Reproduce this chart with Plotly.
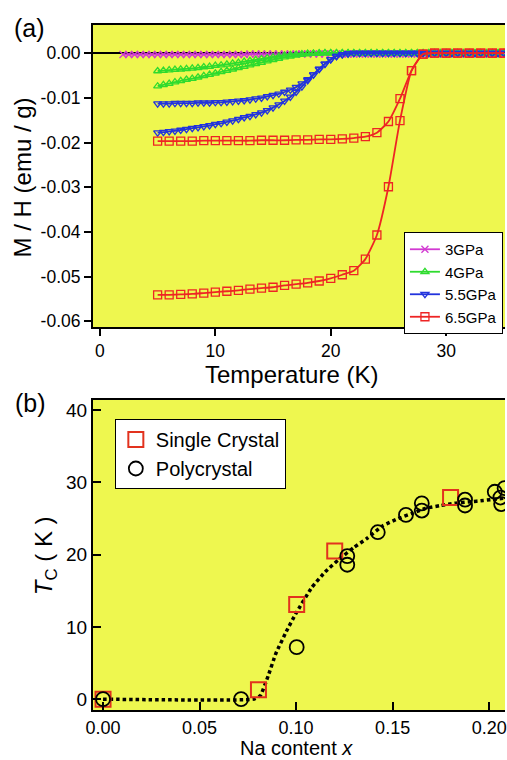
import plotly.graph_objects as go

# ---------------- Panel (a): M/H vs temperature ----------------
T_GRID = [5.0, 5.5, 6.0, 6.5, 7.0, 7.5, 8.0, 8.5, 9.0, 9.5,
          10.0, 10.5, 11.0, 11.5, 12.0, 12.5, 13.0, 13.5, 14.0, 14.5,
          15.0, 15.5, 16.0, 16.5, 17.0, 17.5, 18.0, 18.5, 19.0, 19.5,
          20.0, 20.5, 21.0, 21.5, 22.0, 22.5, 23.0, 23.5, 24.0, 24.5,
          25.0, 25.5, 26.0, 26.5, 27.0, 27.5, 28.0, 28.5, 29.0, 29.5,
          30.0, 30.5, 31.0, 31.5, 32.0, 32.5, 33.0, 33.5, 34.0, 34.5,
          35.0]
T_3GPA = [2.0, 2.5, 3.0, 3.5, 4.0, 4.5] + T_GRID
T_65GPA = [5, 6, 7, 8, 9, 10, 11, 12, 13, 14,
           15, 16, 17, 18, 19, 20, 21, 22, 23, 24,
           25, 26, 27, 28, 29, 30, 31, 32, 33, 34, 35]

MH_3GPA = [-0.0003, -0.0003, -0.0003, -0.0003, -0.0003, -0.0003,
           -0.0003, -0.0003, -0.0003, -0.0003, -0.0003, -0.0003, -0.0003, -0.0003, -0.0003, -0.0003,
           -0.0003, -0.0003, -0.0003, -0.0003, -0.0003, -0.0003, -0.0002, -0.0002, -0.0002, -0.0002,
           -0.0002, -0.0002, -0.0002, -0.0002, -0.0002, -0.0002, -0.0002, -0.0002, -0.0002, -0.0002,
           -0.0002, -0.0002, -0.0002, -0.0002, -0.0002, -0.0002, -0.0002, -0.0002, -0.0002, -0.0002,
           -0.0002, -0.0002, -0.0002, -0.0002, -0.0002, -0.0002, -0.0002, -0.0002, -0.0002, -0.0002,
           -0.0002, -0.0002, -0.0002, -0.0002, -0.0002, -0.0002, -0.0002, -0.0002, -0.0002, -0.0002,
           -0.0002]

MH_4GPA_ZFC = [-0.0074, -0.0071, -0.0068, -0.0065, -0.0062, -0.0059, -0.0057, -0.0054, -0.0051, -0.0048,
               -0.0045, -0.0042, -0.0039, -0.0036, -0.0033, -0.0030, -0.0027, -0.0024, -0.0021, -0.0018,
               -0.0015, -0.0012, -0.0009, -0.0007, -0.0005, -0.0003, -0.0002, -0.0001, -0.0001, 0.0,
               0.0, 0.0, 0.0, 0.0, 0.0, 0.0, 0.0, 0.0, 0.0, 0.0,
               0.0, 0.0, 0.0, 0.0, 0.0, 0.0, 0.0, 0.0, 0.0, 0.0,
               0.0, 0.0, 0.0, 0.0, 0.0, 0.0, 0.0, 0.0, 0.0, 0.0,
               0.0]
MH_4GPA_FC = [-0.0040, -0.0039, -0.0038, -0.0037, -0.0036, -0.0035, -0.0034, -0.0033, -0.0031, -0.0030,
              -0.0028, -0.0027, -0.0025, -0.0023, -0.0021, -0.0019, -0.0017, -0.0015, -0.0013, -0.0011,
              -0.0009, -0.0007, -0.0005, -0.0004, -0.0003, -0.0002, -0.0001, -0.0001, 0.0, 0.0,
              0.0, 0.0, 0.0, 0.0, 0.0, 0.0, 0.0, 0.0, 0.0, 0.0,
              0.0, 0.0, 0.0, 0.0, 0.0, 0.0, 0.0, 0.0, 0.0, 0.0,
              0.0, 0.0, 0.0, 0.0, 0.0, 0.0, 0.0, 0.0, 0.0, 0.0,
              0.0]
MH_55GPA_ZFC = [-0.0178, -0.0177, -0.0175, -0.0174, -0.0172, -0.0170, -0.0168, -0.0166, -0.0164, -0.0162,
                -0.0159, -0.0157, -0.0154, -0.0151, -0.0148, -0.0144, -0.0141, -0.0137, -0.0133, -0.0128,
                -0.0122, -0.0115, -0.0107, -0.0098, -0.0087, -0.0075, -0.0061, -0.0048, -0.0035, -0.0024,
                -0.0014, -0.0007, -0.0003, -0.0001, 0.0, 0.0, 0.0, 0.0, 0.0, 0.0,
                0.0, 0.0, 0.0, 0.0, 0.0, 0.0, 0.0, 0.0, 0.0, 0.0,
                0.0, 0.0, 0.0, 0.0, 0.0, 0.0, 0.0, 0.0, 0.0, 0.0,
                0.0]
MH_55GPA_FC = [-0.0113, -0.0113, -0.0113, -0.0112, -0.0112, -0.0112, -0.0112, -0.0111, -0.0111, -0.0111,
               -0.0110, -0.0110, -0.0109, -0.0108, -0.0107, -0.0106, -0.0104, -0.0102, -0.0100, -0.0097,
               -0.0094, -0.0091, -0.0087, -0.0082, -0.0076, -0.0068, -0.0059, -0.0048, -0.0036, -0.0024,
               -0.0014, -0.0007, -0.0003, -0.0001, 0.0, 0.0, 0.0, 0.0, 0.0, 0.0,
               0.0, 0.0, 0.0, 0.0, 0.0, 0.0, 0.0, 0.0, 0.0, 0.0,
               0.0, 0.0, 0.0, 0.0, 0.0, 0.0, 0.0, 0.0, 0.0, 0.0,
               0.0]
MH_65GPA_ZFC = [-0.0541, -0.0541, -0.0540, -0.0539, -0.0537, -0.0535, -0.0533, -0.0531, -0.0528, -0.0526,
                -0.0524, -0.0520, -0.0517, -0.0514, -0.0510, -0.0504, -0.0496, -0.0487, -0.0461, -0.0407,
                -0.0299, -0.0151, -0.0039, -0.0002, 0.0, 0.0, 0.0, 0.0, 0.0, 0.0,
                0.0]
MH_65GPA_FC = [-0.0197, -0.0197, -0.0197, -0.0197, -0.0196, -0.0196, -0.0196, -0.0196, -0.0196, -0.0195,
               -0.0195, -0.0195, -0.0194, -0.0194, -0.0193, -0.0193, -0.0192, -0.0190, -0.0187, -0.0178,
               -0.0153, -0.0102, -0.0039, -0.0002, 0.0, 0.0, 0.0, 0.0, 0.0, 0.0,
               0.0]

# ---------------- Panel (b): Tc vs Na content ----------------
SC_X = [0.0, 0.0805, 0.1003, 0.1200, 0.1800]
SC_TC = [0.0, 1.3, 13.1, 20.5, 27.9]
PC_X = [0.0, 0.0715, 0.1003, 0.1265, 0.1265, 0.1423, 0.1569, 0.1651, 0.1651,
        0.1875, 0.1875, 0.2029, 0.2058, 0.2062, 0.2080]
PC_TC = [0.0, 0.0, 7.2, 19.8, 18.6, 23.1, 25.5, 27.1, 26.1,
         27.6, 26.8, 28.7, 27.9, 27.0, 29.2]
GUIDE_X = [0.0, 0.078, 0.0815, 0.0855, 0.0895, 0.095, 0.100, 0.108, 0.115, 0.122, 0.130,
           0.137, 0.145, 0.153, 0.160, 0.167, 0.175, 0.182, 0.190, 0.197, 0.204, 0.212]
GUIDE_TC = [0.0, 0.0, 0.5, 3.2, 6.3, 9.4, 11.9, 15.4, 17.6, 19.3, 21.0,
            22.3, 24.0, 25.0, 25.7, 26.4, 26.8, 27.1, 27.3, 27.5, 27.7, 27.9]

A_YTICKS = [0.0, -0.01, -0.02, -0.03, -0.04, -0.05, -0.06]
A_YTEXT = ["0.00", "-0.01", "-0.02", "-0.03", "-0.04", "-0.05", "-0.06"]
A_XTICKS = [0, 10, 20, 30]
B_XTICKS = [0.0, 0.05, 0.10, 0.15, 0.20]
B_XTEXT = ["0.00", "0.05", "0.10", "0.15", "0.20"]
B_YTICKS = [0, 10, 20, 30, 40]

FONT = "Liberation Sans, Arial, Helvetica, sans-serif"
YELLOW = "#EEF74F"
MAGENTA = "#D23AD2"
GREEN = "#2EDB2E"
BLUE = "#2233DD"
RED = "#EE2424"
SC_RED = "#E2321E"

fig = go.Figure()

series = [
    ("3GPa", MAGENTA, "x-thin", 7, [(T_3GPA, MH_3GPA)]),
    ("4GPa", GREEN, "triangle-up-open", 7, [(T_GRID, MH_4GPA_FC), (T_GRID, MH_4GPA_ZFC)]),
    ("5.5GPa", BLUE, "triangle-down-open", 7, [(T_GRID, MH_55GPA_FC), (T_GRID, MH_55GPA_ZFC)]),
    ("6.5GPa", RED, "square-open", 8, [(T_65GPA, MH_65GPA_FC), (T_65GPA, MH_65GPA_ZFC)]),
]
for name, color, symbol, msize, branches in series:
    for i, (tx, my) in enumerate(branches):
        fig.add_trace(go.Scatter(
            x=tx, y=my, mode="lines+markers", name=name,
            legendgroup=name, showlegend=(i == 0), legend="legend",
            line=dict(color=color, width=1.8, shape="spline", smoothing=0.5),
            marker=dict(symbol=symbol, size=msize, color=color,
                        line=dict(color=color, width=1.3)),
            xaxis="x", yaxis="y",
        ))

fig.add_trace(go.Scatter(
    x=GUIDE_X, y=GUIDE_TC, mode="lines", showlegend=False, hoverinfo="skip",
    line=dict(color="black", width=3.5, dash="3.5px,3px", shape="spline", smoothing=0.4),
    xaxis="x2", yaxis="y2",
))
fig.add_trace(go.Scatter(
    x=SC_X, y=SC_TC, mode="markers", name="Single Crystal", legend="legend2",
    marker=dict(symbol="square-open", size=15, color=SC_RED, line=dict(color=SC_RED, width=2)),
    xaxis="x2", yaxis="y2",
))
fig.add_trace(go.Scatter(
    x=PC_X, y=PC_TC, mode="markers", name="Polycrystal", legend="legend2",
    marker=dict(symbol="circle-open", size=14, color="black", line=dict(color="black", width=1.8)),
    xaxis="x2", yaxis="y2",
))

A_XR = [-0.6, 35.1]
A_YR = [-0.0613, 0.0063]
B_XR = [-0.0052, 0.2082]
B_YR = [-1.5, 41.4]
A_DOM = [0.5591, 1.0]
B_DOM = [0.0, 0.4526]

base = dict(showgrid=False, zeroline=False, color="black")
tick_a = dict(family=FONT, size=17.5, color="black")
tick_b = dict(family=FONT, size=18, color="black")

fig.update_layout(
    width=507, height=760,
    margin=dict(l=93, r=0, t=25, b=50),
    paper_bgcolor="white", plot_bgcolor=YELLOW,
    font=dict(family=FONT, color="black"),
    xaxis=dict(**base, domain=[0, 1], anchor="y", range=A_XR, tickvals=A_XTICKS,
               ticks="outside", ticklen=7, tickwidth=2, tickfont=tick_a,
               showline=True, linewidth=2, linecolor="black", mirror=True),
    yaxis=dict(base, domain=A_DOM, anchor="x", range=A_YR, tickvals=A_YTICKS, ticktext=A_YTEXT,
               ticks="outside", ticklen=7, tickwidth=2, tickfont=tick_a,
               showline=True, linewidth=2, linecolor="black",
               zeroline=True, zerolinecolor="black", zerolinewidth=1.5),
    xaxis3=dict(**base, overlaying="x", anchor="y", range=A_XR, tickvals=A_XTICKS,
                ticks="inside", ticklen=7, tickwidth=2, showticklabels=False, showline=False),
    yaxis3=dict(**base, overlaying="y", anchor="x", side="left", range=A_YR, tickvals=A_YTICKS,
                ticks="inside", ticklen=6, tickwidth=2, showticklabels=False, showline=False),
    xaxis2=dict(**base, domain=[0, 1], anchor="y2", range=B_XR, tickvals=B_XTICKS, ticktext=B_XTEXT,
                ticks="inside", ticklen=8, tickwidth=2, tickfont=tick_b,
                ticklabeloverflow="allow",
                showline=True, linewidth=2, linecolor="black", mirror=True),
    yaxis2=dict(**base, domain=B_DOM, anchor="x2", range=B_YR, tickvals=B_YTICKS,
                ticks="inside", ticklen=8, tickwidth=2, tickfont=dict(family=FONT, size=19, color="black"),
                showline=True, linewidth=2, linecolor="black"),
    yaxis4=dict(**base, overlaying="y2", anchor="x2", side="right", range=B_YR, tickvals=B_YTICKS,
                ticks="inside", ticklen=7, tickwidth=2, showticklabels=False, showline=False),
    legend=dict(x=0.995, xanchor="right", y=0.6978, yanchor="top",
                bgcolor="white", bordercolor="black", borderwidth=1,
                font=dict(family=FONT, size=15, color="black"),
                tracegroupgap=0, itemwidth=30),
    legend2=dict(x=0.053, xanchor="left", y=0.4248, yanchor="top",
                 bgcolor="white", bordercolor="black", borderwidth=1,
                 font=dict(family=FONT, size=20, color="black"),
                 itemwidth=30),
    showlegend=True,
    annotations=[
        dict(text="(a)", x=-0.1957, y=0.9956, xref="paper", yref="paper",
             xanchor="left", yanchor="middle", showarrow=False, font=dict(size=25)),
        dict(text="(b)", x=-0.1933, y=0.4482, xref="paper", yref="paper",
             xanchor="left", yanchor="middle", showarrow=False, font=dict(size=25)),
        dict(text="Temperature (K)", x=0.483, y=0.4905, xref="paper", yref="paper",
             xanchor="center", yanchor="middle", showarrow=False, font=dict(size=24)),
        dict(text="M / H (emu / g)", x=-0.1715, y=0.778, xref="paper", yref="paper",
             xanchor="center", yanchor="middle", textangle=-90, showarrow=False,
             font=dict(size=24)),
        dict(text="Na content <i>x</i>", x=0.495, y=-0.0745, xref="paper", yref="paper",
             xanchor="center", yanchor="bottom", showarrow=False, font=dict(size=20)),
        dict(text="<i>T</i><sub>C</sub> ( K )", x=-0.116, y=0.2248, xref="paper", yref="paper",
             xanchor="center", yanchor="middle", textangle=-90, showarrow=False,
             font=dict(size=24)),
    ],
)

fig.write_html("out.html")
